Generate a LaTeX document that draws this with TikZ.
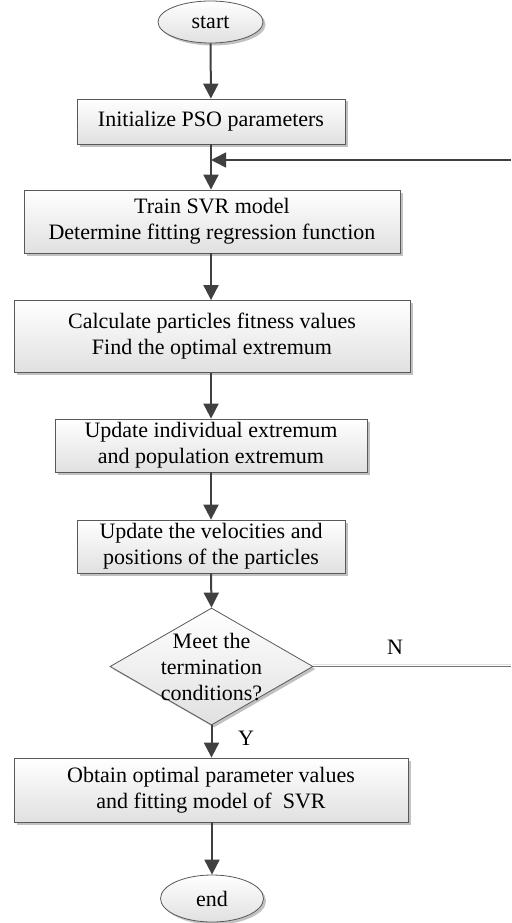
\documentclass[tikz,border=0pt]{standalone}
\usepackage{fontspec}
\setmainfont{Liberation Serif}
\usetikzlibrary{shapes.geometric,arrows.meta,shadows}
\begin{document}
\begin{tikzpicture}[x=1pt,y=-1pt,
  every node/.style={font=\fontsize{22}{26}\selectfont},
  boxshape/.style={draw=black!65, line width=0.8pt, top color=white, bottom color=black!12,
     drop shadow={shadow xshift=2.5pt, shadow yshift=-2.5pt, fill=black!35, opacity=0.7},
     inner sep=0pt, align=center},
  procbox/.style={boxshape, rectangle},
  termbox/.style={boxshape, ellipse},
  decbox/.style={boxshape, diamond},
  flow/.style={draw=black!75, line width=2pt, -{Triangle[length=15pt,width=15pt]}},
  loopline/.style={draw=black!55, line width=1.2pt},
  lbl/.style={inner sep=0pt, font=\fontsize{22}{26}\selectfont}
]
\useasboundingbox (0,0) rectangle (511,923);

\node[termbox, minimum width=105pt, minimum height=42pt] (start) at (210.5,22) {start};
\node[procbox, minimum width=268pt, minimum height=45pt] (init) at (211,121.5) {Initialize PSO parameters};
\node[procbox, minimum width=376pt, minimum height=63pt] (train) at (212,221.5) {Train SVR model\\Determine fitting regression function};
\node[procbox, minimum width=396pt, minimum height=72pt] (calc) at (212,336.5) {Calculate particles fitness values\\Find the optimal extremum};
\node[procbox, minimum width=312pt, minimum height=53pt] (upd1) at (211,445.5) {Update individual extremum\\and population extremum};
\node[procbox, minimum width=268pt, minimum height=53pt] (upd2) at (211,546.5) {Update the velocities and\\positions of the particles};
\node[decbox, minimum width=203pt, minimum height=117pt] (cond) at (211.5,666.5) {};
\node[lbl, align=center] (condtext) at (211.5,667) {Meet the\\termination\\conditions?};
\node[procbox, minimum width=394pt, minimum height=64pt] (obtain) at (211,790) {Obtain optimal parameter values\\and fitting model of~~SVR};
\node[termbox, minimum width=103pt, minimum height=47pt] (end) at (212,898.5) {end};

\coordinate (junc) at (211,160);
\coordinate (topright) at (511,160);
\coordinate (condright) at (511,666.5);

\draw[flow] (start) -- (init);
\draw[flow] (init.south -| junc) -- (train.north -| junc);
\draw[flow] (train.south -| junc) -- (calc.north -| junc);
\draw[flow] (calc.south -| junc) -- (upd1.north -| junc);
\draw[flow] (upd1.south -| junc) -- (upd2.north -| junc);
\draw[flow] (upd2.south -| junc) -- (cond.north);
\draw[flow] (cond.south) -- (obtain.north -| cond.south);
\draw[flow] (obtain.south -| end.north) -- (end.north);

\draw[draw=black!12, line width=1.5pt] ([yshift=2pt]cond.east) -- ([yshift=2pt]condright);
\draw[loopline] (cond.east) -- (condright);
\draw[flow, line width=1.6pt] (topright) -- (junc);

\node[lbl] (nlbl) at (395,647) {N};
\node[lbl] (ylbl) at (246,738) {Y};
\end{tikzpicture}
\end{document}
